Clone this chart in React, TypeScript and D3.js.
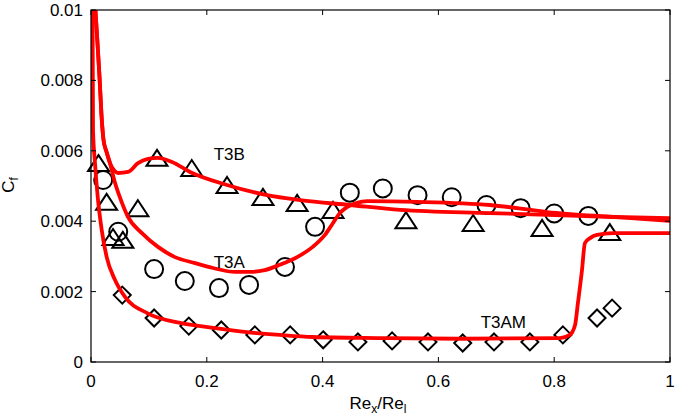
import React from "react";
import * as d3 from "d3";

const X_TICKS = [0, 0.2, 0.4, 0.6, 0.8, 1];
const X_TICK_LABELS = ["0", "0.2", "0.4", "0.6", "0.8", "1"];
const Y_TICKS = [0, 0.002, 0.004, 0.006, 0.008, 0.01];
const Y_TICK_LABELS = ["0", "0.002", "0.004", "0.006", "0.008", "0.01"];

// Experimental data (x = Re_x/Re_L, y = Cf)
const T3B_DATA: [number, number][] = [
  [0.013, 0.00565], [0.027, 0.00455], [0.038, 0.00355], [0.055, 0.00347],
  [0.081, 0.00437], [0.114, 0.0058], [0.174, 0.00551], [0.235, 0.00503],
  [0.297, 0.00469], [0.356, 0.00452], [0.418, 0.00432], [0.544, 0.00403],
  [0.66, 0.00395], [0.779, 0.00381], [0.896, 0.00369],
];
const T3A_DATA: [number, number][] = [
  [0.021, 0.00517], [0.047, 0.0037], [0.109, 0.00264], [0.162, 0.0023],
  [0.221, 0.0021], [0.273, 0.00219], [0.335, 0.0027], [0.387, 0.00384],
  [0.447, 0.00481], [0.504, 0.00493], [0.564, 0.00474], [0.623, 0.00468],
  [0.683, 0.00446], [0.742, 0.00437], [0.8, 0.00422], [0.859, 0.00415],
];
const T3AM_DATA: [number, number][] = [
  [0.054, 0.0019], [0.109, 0.00125], [0.169, 0.00102], [0.225, 0.00091],
  [0.283, 0.00077], [0.344, 0.00077], [0.401, 0.00063], [0.461, 0.00057],
  [0.52, 0.0006], [0.582, 0.00057], [0.642, 0.00054], [0.696, 0.00057],
  [0.758, 0.00057], [0.815, 0.00077], [0.874, 0.00125], [0.9, 0.00153],
];

// Computed curves
const T3B_LINE: [number, number][] = [
  [0.0069, 0.0102], [0.0112, 0.00906], [0.0147, 0.0081], [0.0181, 0.00702],
  [0.0216, 0.00631], [0.0268, 0.00597], [0.0328, 0.00565], [0.0397, 0.00545],
  [0.0466, 0.00537], [0.0639, 0.0054], [0.0812, 0.00565], [0.0984, 0.00577],
  [0.1157, 0.0058], [0.14, 0.00568], [0.171, 0.0054], [0.235, 0.00503],
  [0.304, 0.00474], [0.361, 0.0046], [0.447, 0.00446], [0.534, 0.00432],
  [0.689, 0.00423], [0.788, 0.00418], [0.902, 0.00412], [1.0, 0.00409],
];
const T3A_LINE: [number, number][] = [
  [0.0069, 0.0102], [0.0112, 0.00906], [0.0147, 0.0081], [0.0181, 0.00702],
  [0.0216, 0.00631], [0.0268, 0.00597], [0.0328, 0.00565], [0.0415, 0.00509],
  [0.0535, 0.00452], [0.0639, 0.00412], [0.088, 0.00366], [0.1157, 0.00327],
  [0.145, 0.00298], [0.18, 0.00281], [0.211, 0.00267], [0.249, 0.00256],
  [0.275, 0.00256], [0.3, 0.00261], [0.326, 0.00276], [0.356, 0.00298],
  [0.383, 0.00327], [0.404, 0.00361], [0.418, 0.00395], [0.43, 0.00423],
  [0.442, 0.0044], [0.459, 0.00452], [0.477, 0.00457], [0.563, 0.00455],
  [0.689, 0.00446], [0.788, 0.00426], [0.902, 0.00412], [1.0, 0.00401],
];
const T3AM_LINE: [number, number][] = [
  [0.0026, 0.0102], [0.0035, 0.00659], [0.0069, 0.00565], [0.0116, 0.00469],
  [0.0185, 0.00375], [0.0271, 0.00298], [0.0415, 0.00233], [0.0587, 0.00185],
  [0.097, 0.00139], [0.154, 0.00111], [0.211, 0.00097], [0.269, 0.00085],
  [0.326, 0.00077], [0.383, 0.00071], [0.5, 0.00068], [0.637, 0.00066],
  [0.81, 0.00068], [0.827, 0.00077], [0.836, 0.00105], [0.841, 0.00168],
  [0.848, 0.00261], [0.853, 0.00338], [0.862, 0.00352], [0.874, 0.00361],
  [0.902, 0.00366], [1.0, 0.00366],
];

const LABELS = [
  { text: "T3B", x: 0.212, y: 0.00575 },
  { text: "T3A", x: 0.212, y: 0.00268 },
  { text: "T3AM", x: 0.673, y: 0.00097 },
];

const W = 685;
const H = 418;
const L = 91, R = 670, T = 10, B = 362;
const FONT = "'Liberation Sans', Arial, sans-serif";

export default function App() {
  const x = d3.scaleLinear().domain([0, 1]).range([L, R]);
  const y = d3.scaleLinear().domain([0, 0.01]).range([B, T]);
  const line = d3
    .line<[number, number]>()
    .x((d) => x(d[0]))
    .y((d) => y(d[1]))
    .curve(d3.curveMonotoneX);

  const tri = (cx: number, cy: number) =>
    `M${cx},${cy - 8}L${cx + 10.5},${cy + 8}L${cx - 10.5},${cy + 8}Z`;
  const dia = (cx: number, cy: number) =>
    `M${cx},${cy - 8.5}L${cx + 8.5},${cy}L${cx},${cy + 8.5}L${cx - 8.5},${cy}Z`;

  const tick = 5;
  return (
    <svg
      width={W}
      height={H}
      style={{ position: "absolute", left: 0, top: 0, background: "#fff" }}
      fontFamily={FONT}
    >
      <defs>
        <clipPath id="plotclip">
          <rect x={L} y={T} width={R - L} height={B - T} />
        </clipPath>
      </defs>
      <rect x={0} y={0} width={W} height={H} fill="#fff" />
      {/* markers */}
      <g fill="none" stroke="#000" strokeWidth={2}>
        {T3B_DATA.map((d, i) => (
          <path key={"t" + i} d={tri(x(d[0]), y(d[1]))} />
        ))}
        {T3A_DATA.map((d, i) => (
          <circle key={"c" + i} cx={x(d[0])} cy={y(d[1])} r={9} />
        ))}
        {T3AM_DATA.map((d, i) => (
          <path key={"d" + i} d={dia(x(d[0]), y(d[1]))} />
        ))}
      </g>
      {/* lines */}
      <g clipPath="url(#plotclip)" fill="none" stroke="#ff0000" strokeWidth={3.8} strokeLinejoin="round">
        <path d={line(T3AM_LINE) || ""} />
        <path d={line(T3A_LINE) || ""} />
        <path d={line(T3B_LINE) || ""} />
      </g>
      {/* frame */}
      <rect x={L} y={T} width={R - L} height={B - T} fill="none" stroke="#000" strokeWidth={1.2} />
      {/* ticks */}
      <g stroke="#000" strokeWidth={1}>
        {X_TICKS.map((t, i) => (
          <g key={"xt" + i}>
            <line x1={x(t)} x2={x(t)} y1={B} y2={B - tick} />
            <line x1={x(t)} x2={x(t)} y1={T} y2={T + tick} />
          </g>
        ))}
        {Y_TICKS.map((t, i) => (
          <g key={"yt" + i}>
            <line x1={L} x2={L + tick} y1={y(t)} y2={y(t)} />
            <line x1={R} x2={R - tick} y1={y(t)} y2={y(t)} />
          </g>
        ))}
      </g>
      {/* tick labels */}
      <g fontSize={17} fill="#000">
        {X_TICKS.map((t, i) => (
          <text key={"xl" + i} x={x(t)} y={387} textAnchor="middle">
            {X_TICK_LABELS[i]}
          </text>
        ))}
        {Y_TICKS.map((t, i) => (
          <text key={"yl" + i} x={83} y={y(t)} dy="0.35em" textAnchor="end">
            {Y_TICK_LABELS[i]}
          </text>
        ))}
      </g>
      {/* annotations */}
      <g fontSize={17} fill="#000">
        {LABELS.map((l, i) => (
          <text key={"a" + i} x={x(l.x)} y={y(l.y)}>
            {l.text}
          </text>
        ))}
      </g>
      {/* axis labels */}
      <text x={378} y={409} fontSize={17} textAnchor="middle" fill="#000">
        Re
        <tspan fontSize={12} dy={4}>x</tspan>
        <tspan dy={-4}>/Re</tspan>
        <tspan fontSize={12} dy={4}>l</tspan>
      </text>
      <text
        transform="translate(14,185) rotate(-90)"
        fontSize={17}
        textAnchor="middle"
        fill="#000"
      >
        C<tspan fontSize={12} dy={4}>f</tspan>
      </text>
    </svg>
  );
}
